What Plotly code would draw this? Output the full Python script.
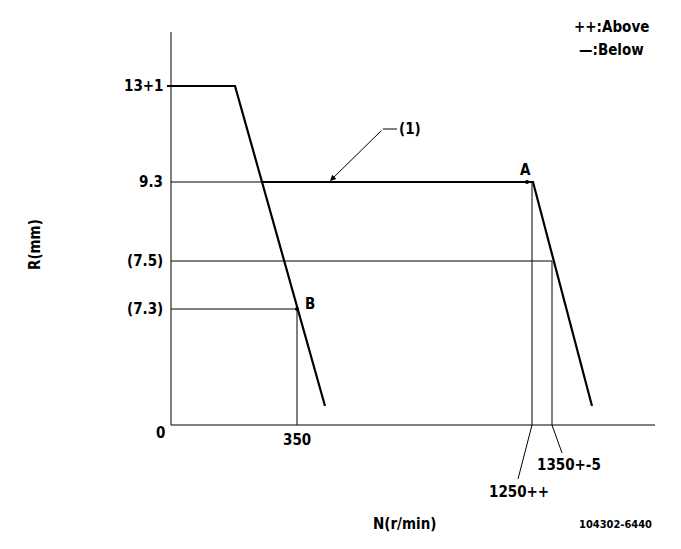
import plotly.graph_objects as go

# Drawing units: x = horizontal distance from the R axis, y = height above the N axis
# (the chart is a schematic with non-linear tick spacing)
axis_x_end = 484
axis_y_end = 393

# Y levels (R) and their labels
y_levels = [339, 243, 164, 116]
y_labels = ["13+1", "9.3", "(7.5)", "(7.3)"]

# X positions (N) and labels
x_350 = 126
x_1250 = 361
x_1350 = 381

# Curves
curve1_x = [-4, 64, 154]
curve1_y = [339, 339, 19]
curve2_x = [90, 362, 421]
curve2_y = [243, 243, 19]

# thin guide lines
guide_h = [(0, 90, 243), (0, x_1350, 164), (0, x_350, 116)]
guide_v = [(x_350, 0, 116), (x_1250, 0, 243), (x_1350, 0, 164)]

FONT = "DejaVu Sans Condensed, DejaVu Sans"
fig = go.Figure()

def line(xs, ys, w=1.0):
    fig.add_trace(go.Scatter(x=xs, y=ys, mode="lines",
                             line=dict(color="black", width=w),
                             hoverinfo="skip", showlegend=False, cliponaxis=False))

# axes
line([0, axis_x_end], [0, 0])
line([0, 0], [0, axis_y_end])
for x0, x1, y in guide_h:
    line([x0, x1], [y, y])
for x, y0, y1 in guide_v:
    line([x, x], [y0, y1])
# leader lines for tick labels
line([x_1250, 347], [0, -54])
line([x_1350, 391], [0, -28])
line([212, 226], [296, 296])

line(curve1_x, curve1_y, 2.2)
line(curve2_x, curve2_y, 2.2)

# points A, B
fig.add_trace(go.Scatter(x=[356, x_350], y=[243, 116], mode="markers",
                         marker=dict(color="black", size=4),
                         hoverinfo="skip", showlegend=False, cliponaxis=False))

def text(x, y, s, size=15, anchor="center", angle=0):
    fig.add_annotation(x=x, y=y, text="<b>" + s + "</b>", showarrow=False, xanchor=anchor,
                       yanchor="middle", textangle=angle,
                       font=dict(family=FONT, size=size, color="black"))

for y, lab in zip(y_levels, y_labels):
    text(-6, y, lab, anchor="right")
text(-11, -8, "0")
text(x_350, -15, "350")
text(348, -67, "1250++")
text(398, -40, "1350+-5")
text(234, -99, "N(r/min)")
text(444, -99, "104302-6440", size=11)
text(-136, 180, "R(mm)", angle=-90)
text(440, 398, "++:Above")
text(440, 375, "—:Below")
text(239, 296, "(1)")
text(354, 255, "A")
text(139, 121, "B")

# arrow for (1)
fig.add_annotation(x=159, y=244, ax=212, ay=296, xref="x", yref="y",
                   axref="x", ayref="y", text="", showarrow=True,
                   arrowhead=2, arrowsize=1.2, arrowwidth=1, arrowcolor="black")

# page body has an 8px margin, so shift the ranges to keep the drawing in place
fig.update_layout(
    width=681, height=549,
    margin=dict(l=0, r=0, t=0, b=0),
    plot_bgcolor="white", paper_bgcolor="white",
    xaxis=dict(range=[-163, 518], visible=False, fixedrange=True),
    yaxis=dict(range=[-132, 417], visible=False, fixedrange=True),
)

fig.write_html("out.html")
